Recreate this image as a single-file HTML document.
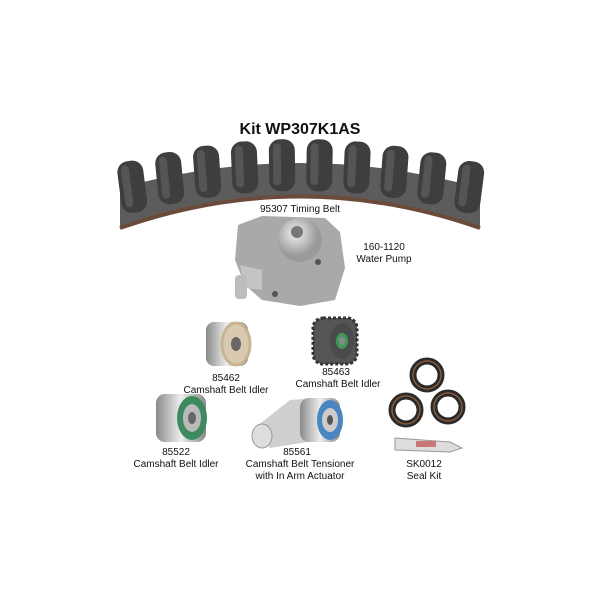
<!DOCTYPE html><html><head><style>body{margin:0;background:#fff}svg{display:block}text{font-family:"Liberation Sans",sans-serif;fill:#111}</style></head><body>
<svg id="s" width="600" height="600" viewBox="0 0 600 600">
<defs>
<radialGradient id="g1" cx="40%" cy="35%"><stop offset="0" stop-color="#f2f2f2"/><stop offset="1" stop-color="#9a9a9a"/></radialGradient>
<linearGradient id="cy" x1="0" x2="1"><stop offset="0" stop-color="#8a8a8a"/><stop offset=".5" stop-color="#eee"/><stop offset="1" stop-color="#888"/></linearGradient>
</defs>
<text x="300" y="134" text-anchor="middle" font-size="16" font-weight="bold">Kit WP307K1AS</text>
<path d="M120,228 Q300,165 480,228 L480,188 Q300,138 120,188 Z" fill="#5c5c5c"/>
<path d="M120,228 Q300,165 480,228" stroke="#6b4a3a" stroke-width="4" fill="none"/>
<g id="teeth"></g>
<text x="300" y="212" text-anchor="middle" font-size="10">95307 Timing Belt</text>
<path d="M238,225 L262,216 L325,218 L340,232 L345,268 L335,300 L300,306 L262,300 L245,285 L235,260 Z" fill="#a9a9a9"/>
<path d="M240,265 L262,270 L262,290 L245,288 Z" fill="#c4c4c4"/>
<rect x="235" y="275" width="12" height="24" rx="4" fill="#bdbdbd"/>
<circle cx="300" cy="240" r="22" fill="url(#g1)"/>
<circle cx="297" cy="232" r="6" fill="#777"/>
<circle cx="275" cy="294" r="3" fill="#555"/><circle cx="318" cy="262" r="3" fill="#555"/>
<text x="384" y="250" text-anchor="middle" font-size="10">160-1120</text>
<text x="384" y="262" text-anchor="middle" font-size="10">Water Pump</text>
<rect x="206" y="322" width="42" height="44" rx="8" fill="url(#cy)"/>
<ellipse cx="236" cy="344" rx="14" ry="21" fill="#d9c9b0" stroke="#c8b48f" stroke-width="3"/>
<ellipse cx="236" cy="344" rx="5" ry="7" fill="#666"/>
<text x="226" y="381" text-anchor="middle" font-size="10">85462</text>
<text x="226" y="393" text-anchor="middle" font-size="10">Camshaft Belt Idler</text>
<rect x="313" y="318" width="44" height="46" rx="10" fill="#555" stroke="#333" stroke-width="3" stroke-dasharray="3 2"/>
<ellipse cx="342" cy="341" rx="12" ry="18" fill="#4a4a4a"/>
<ellipse cx="342" cy="341" rx="6" ry="8" fill="#3f9a5a"/>
<ellipse cx="342" cy="341" rx="3" ry="4" fill="#888"/>
<text x="336" y="375" text-anchor="middle" font-size="10">85463</text>
<text x="338" y="387" text-anchor="middle" font-size="10">Camshaft Belt Idler</text>
<rect x="156" y="394" width="50" height="48" rx="9" fill="url(#cy)"/>
<ellipse cx="192" cy="418" rx="15" ry="22" fill="#3d8a60"/>
<ellipse cx="192" cy="418" rx="9" ry="14" fill="#bbb"/>
<ellipse cx="192" cy="418" rx="4" ry="6" fill="#666"/>
<text x="176" y="455" text-anchor="middle" font-size="10">85522</text>
<text x="176" y="467" text-anchor="middle" font-size="10">Camshaft Belt Idler</text>
<path d="M252,430 L290,400 L318,398 L320,440 L270,448 Z" fill="#cfcfcf"/>
<ellipse cx="262" cy="436" rx="10" ry="12" fill="#ddd" stroke="#999"/>
<rect x="300" y="398" width="40" height="44" rx="9" fill="url(#cy)"/>
<ellipse cx="330" cy="420" rx="13" ry="20" fill="#4a86c0"/>
<ellipse cx="330" cy="420" rx="8" ry="12" fill="#ccc"/>
<ellipse cx="330" cy="420" rx="3" ry="5" fill="#555"/>
<text x="297" y="455" text-anchor="middle" font-size="10">85561</text>
<text x="300" y="467" text-anchor="middle" font-size="10">Camshaft Belt Tensioner</text>
<text x="300" y="479" text-anchor="middle" font-size="10">with In Arm Actuator</text>
<circle cx="427" cy="375" r="14" fill="none" stroke="#2a2a2a" stroke-width="7"/>
<circle cx="427" cy="375" r="14" fill="none" stroke="#8a5a3a" stroke-width="1.5"/>
<circle cx="406" cy="410" r="14" fill="none" stroke="#2a2a2a" stroke-width="7"/>
<circle cx="406" cy="410" r="14" fill="none" stroke="#8a5a3a" stroke-width="1.5"/>
<circle cx="448" cy="407" r="14" fill="none" stroke="#2a2a2a" stroke-width="7"/>
<circle cx="448" cy="407" r="14" fill="none" stroke="#8a5a3a" stroke-width="1.5"/>
<path d="M395,438 L450,442 L462,448 L450,452 L395,450 Z" fill="#ddd" stroke="#999"/>
<rect x="416" y="441" width="20" height="6" fill="#c77"/>
<text x="424" y="467" text-anchor="middle" font-size="10">SK0012</text>
<text x="424" y="479" text-anchor="middle" font-size="10">Seal Kit</text>
</svg>
<script>
var g=document.getElementById('teeth'),h='';
for(var i=0;i<10;i++){var x=132+i*37.5,t=(x-120)/360;
var y=(1-t)*(1-t)*188+2*t*(1-t)*138+t*t*188;
var d=2*(1-t)*(138-188)+2*t*(188-138);var a=Math.atan2(d,360)*180/Math.PI*0.5;
h+='<g transform="translate('+x+','+y+') rotate('+a+')"><rect x="-13" y="-24" width="26" height="52" rx="11" fill="#3e3e3e"/><rect x="-9" y="-20" width="8" height="42" rx="4" fill="#555"/></g>';}
g.innerHTML=h;
</script>
</body></html>
